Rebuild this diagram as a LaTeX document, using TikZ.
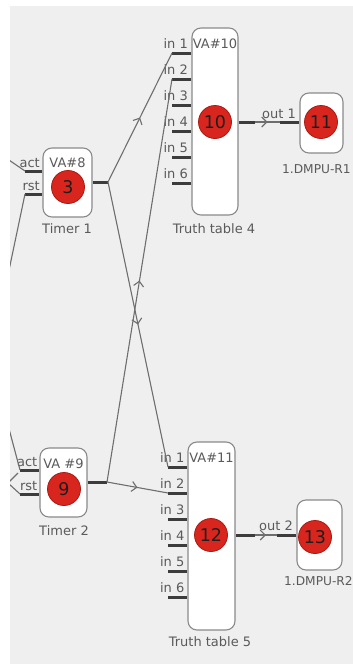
\documentclass[tikz,border=0pt]{standalone}
\usepackage{fontspec}
\setmainfont{DejaVu Sans}
\usetikzlibrary{arrows.meta,decorations.markings}
\definecolor{bgc}{HTML}{EFEFEF}
\definecolor{boxc}{HTML}{8A8A8A}
\definecolor{pinc}{HTML}{3C3C3C}
\definecolor{wirec}{HTML}{6E6E6E}
\definecolor{textc}{HTML}{5A5A5A}
\definecolor{redc}{HTML}{D8261E}
\definecolor{redd}{HTML}{A81A14}
\definecolor{numc}{HTML}{1E1E1E}
\begin{document}
\begin{tikzpicture}[x=1pt,y=-1pt,
 box/.style={draw=boxc, fill=white, line width=1.1pt, rounded corners=9pt, inner sep=0pt},
 num/.style={circle, fill=redc, draw=redd, line width=0.8pt, minimum size=33pt, inner sep=0pt, text=numc, font=\fontsize{17.5}{18}\selectfont},
 lbl/.style={text=textc, font=\fontsize{13}{14}\selectfont, inner sep=0pt},
 dlbl/.style={text=textc, font=\fontsize{12.2}{13}\selectfont, inner sep=0pt},
 pinl/.style={draw=pinc, line width=3pt},
 wire/.style={draw=wirec, line width=1.1pt, postaction={decorate},
   decoration={markings, mark=at position 0.5 with {\arrow[wirec,line width=1.1pt]{Straight Barb[length=5pt,width=10pt]}}}},
 stub/.style={draw=wirec, line width=1.1pt}]

\useasboundingbox (0,0) rectangle (353,664);
\fill[white] (0,0) rectangle (353,664);
\fill[bgc] (10,6) rectangle (353,664);

\begin{scope}
\clip (10,6) rectangle (353,664);

% boxes
\node[box, minimum width=49pt, minimum height=69pt] (t1) at (67.5,182.5) {};
\node[box, minimum width=47pt, minimum height=69pt] (t2) at (63.5,482.5) {};
\node[box, minimum width=46pt, minimum height=187pt] (tt4) at (215,121.5) {};
\node[box, minimum width=47pt, minimum height=188pt] (tt5) at (211.5,536) {};
\node[box, minimum width=43pt, minimum height=60pt] (d11) at (321.5,123) {};
\node[box, minimum width=45pt, minimum height=70pt] (d13) at (319.5,535) {};

% circles
\node[num] (c3) at (68,187) {3};
\node[num] (c9) at (64,489) {9};
\node[num] (c10) at (215,122) {10};
\node[num] (c12) at (211,535) {12};
\node[num] (c11) at (321,122) {11};
\node[num] (c13) at (315,537) {13};

% top labels
\node[lbl, anchor=base] (va8) at (67.5,167) {VA\#8};
\node[lbl, anchor=base] (va9) at (63.5,468) {VA \#9};
\node[lbl, anchor=base] (va10) at (215,48) {VA\#10};
\node[lbl, anchor=base] (va11) at (211.5,462) {VA\#11};

% bottom labels
\node[lbl, anchor=base] (n1) at (67,233) {Timer 1};
\node[lbl, anchor=base] (n2) at (64,535) {Timer 2};
\node[lbl, anchor=base] (n3) at (214,233) {Truth table 4};
\node[lbl, anchor=base] (n4) at (210,646) {Truth table 5};
\node[dlbl, anchor=base west] (n5) at (282,173) {1.DMPU-R1};
\node[dlbl, anchor=base west] (n6) at (284,585) {1.DMPU-R2};

% pin end coordinates
\coordinate (t1act) at (25,171);
\coordinate (t1rst) at (25,194);
\coordinate (t1out) at (108,182);
\coordinate (t2act) at (20,470);
\coordinate (t2rst) at (20,494);
\coordinate (t2out) at (107,482);
\coordinate (tt4out) at (255,122);
\coordinate (tt5out) at (255,535);
\coordinate (d11in) at (280,122);
\coordinate (d13in) at (277,535);
\foreach \k/\y in {1/53,2/79,3/105,4/131,5/157,6/183}{
  \coordinate (tt4i\k) at (172,\y);
  \draw[pinl] (tt4i\k) -- (tt4i\k -| tt4.west);
  \node[lbl, anchor=base east] (tt4l\k) at (188,\y-5) {in \k};
}
\foreach \k/\y in {1/467,2/493,3/519,4/545,5/571,6/597}{
  \coordinate (tt5i\k) at (168,\y);
  \draw[pinl] (tt5i\k) -- (tt5i\k -| tt5.west);
  \node[lbl, anchor=base east] (tt5l\k) at (184.5,\y-5) {in \k};
}

% pins
\draw[pinl] (t1act) -- (t1act -| t1.west);
\draw[pinl] (t1rst) -- (t1rst -| t1.west);
\draw[pinl] (t1.east |- t1out) -- (t1out);
\draw[pinl] (t2act) -- (t2act -| t2.west);
\draw[pinl] (t2rst) -- (t2rst -| t2.west);
\draw[pinl] (t2.east |- t2out) -- (t2out);
\draw[pinl] (tt4.east |- tt4out) -- (tt4out);
\draw[pinl] (tt5.east |- tt5out) -- (tt5out);
\draw[pinl] (d11in) -- (d11in -| d11.west);
\draw[pinl] (d13in) -- (d13in -| d13.west);

% pin labels
\node[lbl, anchor=base east] (la1) at (40,167) {act};
\node[lbl, anchor=base east] (lr1) at (40,190) {rst};
\node[lbl, anchor=base east] (la2) at (37.5,466) {act};
\node[lbl, anchor=base east] (lr2) at (37.5,490) {rst};
\node[lbl, anchor=base east] (lo1) at (296,118) {out 1};
\node[lbl, anchor=base east] (lo2) at (293,530) {out 2};

% wires
\draw[wire] (t1out) -- (tt4i1);
\draw[wire] (t1out) -- (tt5i1);
\draw[wire] (t2out) -- (tt4i2);
\draw[wire] (t2out) -- (tt5i2);
\draw[wire] (tt4out) -- (d11in);
\draw[wire] (tt5out) -- (d13in);

% stubs coming from outside the view
\coordinate (e1) at (6,158);
\coordinate (e2) at (8,275);
\coordinate (e3) at (8,425);
\coordinate (e4) at (8,483);
\coordinate (e5) at (18,473);
\draw[stub] (e1) -- (t1act);
\draw[stub] (e2) -- (t1rst);
\draw[stub] (e3) -- (t2act);
\draw[stub] (e5) -- (e4) -- (t2rst);
\end{scope}
\end{tikzpicture}
\end{document}
